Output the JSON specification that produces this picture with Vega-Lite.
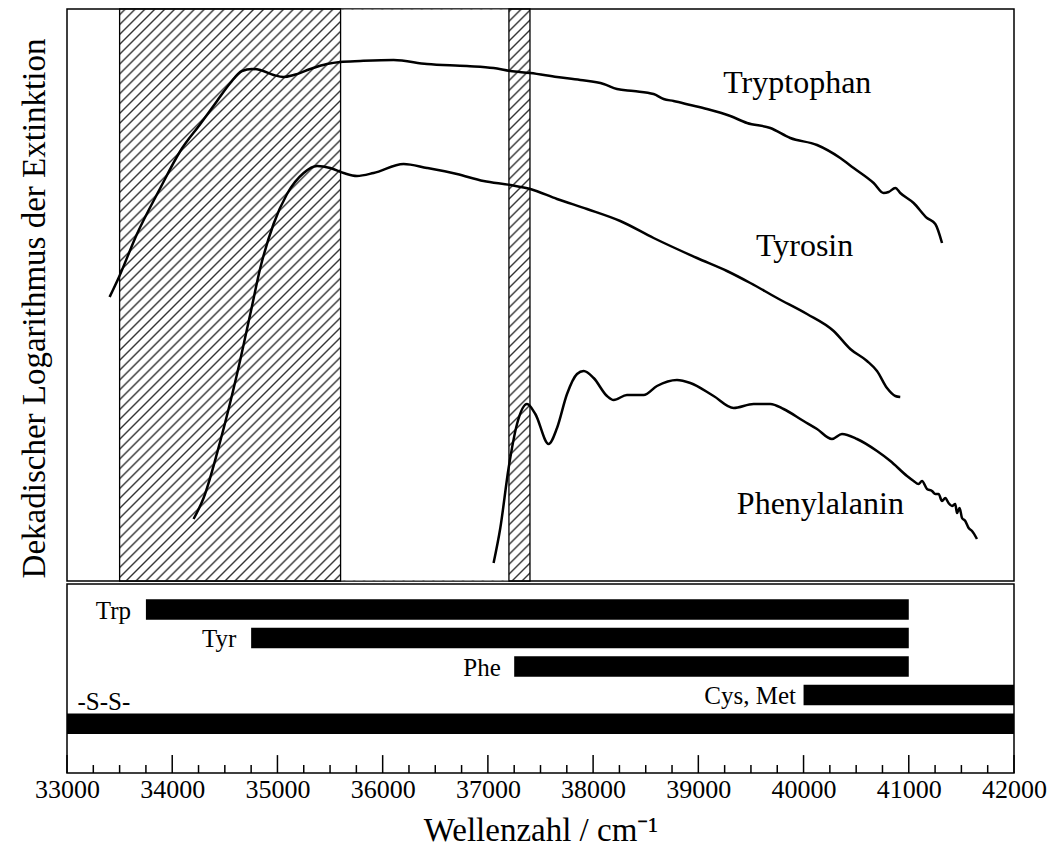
{
"$schema": "https://vega.github.io/schema/vega-lite/v6.json",
"background": "white",
"padding": {"left": 17, "top": 7, "right": 2, "bottom": 0},
"config": {"font": "Liberation Serif", "view": {"stroke": "black", "strokeWidth": 1.5}},
"spacing": 0,
"vconcat": [
{
"width": 947, "height": 572,
"layer": [
{
"data": {"values": [{"x0": 33500, "x1": 37400}]},
"mark": {"type": "rect", "strokeWidth": 0, "fill": {"gradient": "linear", "x1": 0, "y1": 0, "x2": 0.8198, "y2": 1.1426, "stops": [
{"offset":0.003,"color":"#fff"},{"offset":0.005,"color":"#333"},{"offset":0.007,"color":"#fff"},
{"offset":0.013,"color":"#fff"},{"offset":0.015,"color":"#333"},{"offset":0.017,"color":"#fff"},
{"offset":0.023,"color":"#fff"},{"offset":0.025,"color":"#333"},{"offset":0.027,"color":"#fff"},
{"offset":0.033,"color":"#fff"},{"offset":0.035,"color":"#333"},{"offset":0.037,"color":"#fff"},
{"offset":0.043,"color":"#fff"},{"offset":0.045,"color":"#333"},{"offset":0.047,"color":"#fff"},
{"offset":0.053,"color":"#fff"},{"offset":0.055,"color":"#333"},{"offset":0.057,"color":"#fff"},
{"offset":0.063,"color":"#fff"},{"offset":0.065,"color":"#333"},{"offset":0.067,"color":"#fff"},
{"offset":0.073,"color":"#fff"},{"offset":0.075,"color":"#333"},{"offset":0.077,"color":"#fff"},
{"offset":0.083,"color":"#fff"},{"offset":0.085,"color":"#333"},{"offset":0.087,"color":"#fff"},
{"offset":0.093,"color":"#fff"},{"offset":0.095,"color":"#333"},{"offset":0.097,"color":"#fff"},
{"offset":0.103,"color":"#fff"},{"offset":0.105,"color":"#333"},{"offset":0.107,"color":"#fff"},
{"offset":0.113,"color":"#fff"},{"offset":0.115,"color":"#333"},{"offset":0.117,"color":"#fff"},
{"offset":0.123,"color":"#fff"},{"offset":0.125,"color":"#333"},{"offset":0.127,"color":"#fff"},
{"offset":0.133,"color":"#fff"},{"offset":0.135,"color":"#333"},{"offset":0.137,"color":"#fff"},
{"offset":0.143,"color":"#fff"},{"offset":0.145,"color":"#333"},{"offset":0.147,"color":"#fff"},
{"offset":0.153,"color":"#fff"},{"offset":0.155,"color":"#333"},{"offset":0.157,"color":"#fff"},
{"offset":0.163,"color":"#fff"},{"offset":0.165,"color":"#333"},{"offset":0.167,"color":"#fff"},
{"offset":0.173,"color":"#fff"},{"offset":0.175,"color":"#333"},{"offset":0.177,"color":"#fff"},
{"offset":0.183,"color":"#fff"},{"offset":0.185,"color":"#333"},{"offset":0.187,"color":"#fff"},
{"offset":0.193,"color":"#fff"},{"offset":0.195,"color":"#333"},{"offset":0.197,"color":"#fff"},
{"offset":0.203,"color":"#fff"},{"offset":0.205,"color":"#333"},{"offset":0.207,"color":"#fff"},
{"offset":0.213,"color":"#fff"},{"offset":0.215,"color":"#333"},{"offset":0.217,"color":"#fff"},
{"offset":0.223,"color":"#fff"},{"offset":0.225,"color":"#333"},{"offset":0.227,"color":"#fff"},
{"offset":0.233,"color":"#fff"},{"offset":0.235,"color":"#333"},{"offset":0.237,"color":"#fff"},
{"offset":0.243,"color":"#fff"},{"offset":0.245,"color":"#333"},{"offset":0.247,"color":"#fff"},
{"offset":0.253,"color":"#fff"},{"offset":0.255,"color":"#333"},{"offset":0.257,"color":"#fff"},
{"offset":0.263,"color":"#fff"},{"offset":0.265,"color":"#333"},{"offset":0.267,"color":"#fff"},
{"offset":0.273,"color":"#fff"},{"offset":0.275,"color":"#333"},{"offset":0.277,"color":"#fff"},
{"offset":0.283,"color":"#fff"},{"offset":0.285,"color":"#333"},{"offset":0.287,"color":"#fff"},
{"offset":0.293,"color":"#fff"},{"offset":0.295,"color":"#333"},{"offset":0.297,"color":"#fff"},
{"offset":0.303,"color":"#fff"},{"offset":0.305,"color":"#333"},{"offset":0.307,"color":"#fff"},
{"offset":0.313,"color":"#fff"},{"offset":0.315,"color":"#333"},{"offset":0.317,"color":"#fff"},
{"offset":0.323,"color":"#fff"},{"offset":0.325,"color":"#333"},{"offset":0.327,"color":"#fff"},
{"offset":0.333,"color":"#fff"},{"offset":0.335,"color":"#333"},{"offset":0.337,"color":"#fff"},
{"offset":0.343,"color":"#fff"},{"offset":0.345,"color":"#333"},{"offset":0.347,"color":"#fff"},
{"offset":0.353,"color":"#fff"},{"offset":0.355,"color":"#333"},{"offset":0.357,"color":"#fff"},
{"offset":0.363,"color":"#fff"},{"offset":0.365,"color":"#333"},{"offset":0.367,"color":"#fff"},
{"offset":0.373,"color":"#fff"},{"offset":0.375,"color":"#333"},{"offset":0.377,"color":"#fff"},
{"offset":0.383,"color":"#fff"},{"offset":0.385,"color":"#333"},{"offset":0.387,"color":"#fff"},
{"offset":0.393,"color":"#fff"},{"offset":0.395,"color":"#333"},{"offset":0.397,"color":"#fff"},
{"offset":0.403,"color":"#fff"},{"offset":0.405,"color":"#333"},{"offset":0.407,"color":"#fff"},
{"offset":0.413,"color":"#fff"},{"offset":0.415,"color":"#333"},{"offset":0.417,"color":"#fff"},
{"offset":0.423,"color":"#fff"},{"offset":0.425,"color":"#333"},{"offset":0.427,"color":"#fff"},
{"offset":0.433,"color":"#fff"},{"offset":0.435,"color":"#333"},{"offset":0.437,"color":"#fff"},
{"offset":0.443,"color":"#fff"},{"offset":0.445,"color":"#333"},{"offset":0.447,"color":"#fff"},
{"offset":0.453,"color":"#fff"},{"offset":0.455,"color":"#333"},{"offset":0.457,"color":"#fff"},
{"offset":0.463,"color":"#fff"},{"offset":0.465,"color":"#333"},{"offset":0.467,"color":"#fff"},
{"offset":0.473,"color":"#fff"},{"offset":0.475,"color":"#333"},{"offset":0.477,"color":"#fff"},
{"offset":0.483,"color":"#fff"},{"offset":0.485,"color":"#333"},{"offset":0.487,"color":"#fff"},
{"offset":0.493,"color":"#fff"},{"offset":0.495,"color":"#333"},{"offset":0.497,"color":"#fff"},
{"offset":0.503,"color":"#fff"},{"offset":0.505,"color":"#333"},{"offset":0.507,"color":"#fff"},
{"offset":0.513,"color":"#fff"},{"offset":0.515,"color":"#333"},{"offset":0.517,"color":"#fff"},
{"offset":0.523,"color":"#fff"},{"offset":0.525,"color":"#333"},{"offset":0.527,"color":"#fff"},
{"offset":0.533,"color":"#fff"},{"offset":0.535,"color":"#333"},{"offset":0.537,"color":"#fff"},
{"offset":0.543,"color":"#fff"},{"offset":0.545,"color":"#333"},{"offset":0.547,"color":"#fff"},
{"offset":0.553,"color":"#fff"},{"offset":0.555,"color":"#333"},{"offset":0.557,"color":"#fff"},
{"offset":0.563,"color":"#fff"},{"offset":0.565,"color":"#333"},{"offset":0.567,"color":"#fff"},
{"offset":0.573,"color":"#fff"},{"offset":0.575,"color":"#333"},{"offset":0.577,"color":"#fff"},
{"offset":0.583,"color":"#fff"},{"offset":0.585,"color":"#333"},{"offset":0.587,"color":"#fff"},
{"offset":0.593,"color":"#fff"},{"offset":0.595,"color":"#333"},{"offset":0.597,"color":"#fff"},
{"offset":0.603,"color":"#fff"},{"offset":0.605,"color":"#333"},{"offset":0.607,"color":"#fff"},
{"offset":0.613,"color":"#fff"},{"offset":0.615,"color":"#333"},{"offset":0.617,"color":"#fff"},
{"offset":0.623,"color":"#fff"},{"offset":0.625,"color":"#333"},{"offset":0.627,"color":"#fff"},
{"offset":0.633,"color":"#fff"},{"offset":0.635,"color":"#333"},{"offset":0.637,"color":"#fff"},
{"offset":0.643,"color":"#fff"},{"offset":0.645,"color":"#333"},{"offset":0.647,"color":"#fff"},
{"offset":0.653,"color":"#fff"},{"offset":0.655,"color":"#333"},{"offset":0.657,"color":"#fff"},
{"offset":0.663,"color":"#fff"},{"offset":0.665,"color":"#333"},{"offset":0.667,"color":"#fff"},
{"offset":0.673,"color":"#fff"},{"offset":0.675,"color":"#333"},{"offset":0.677,"color":"#fff"},
{"offset":0.683,"color":"#fff"},{"offset":0.685,"color":"#333"},{"offset":0.687,"color":"#fff"},
{"offset":0.693,"color":"#fff"},{"offset":0.695,"color":"#333"},{"offset":0.697,"color":"#fff"},
{"offset":0.703,"color":"#fff"},{"offset":0.705,"color":"#333"},{"offset":0.707,"color":"#fff"},
{"offset":0.713,"color":"#fff"},{"offset":0.715,"color":"#333"},{"offset":0.717,"color":"#fff"},
{"offset":0.723,"color":"#fff"},{"offset":0.725,"color":"#333"},{"offset":0.727,"color":"#fff"},
{"offset":0.733,"color":"#fff"},{"offset":0.735,"color":"#333"},{"offset":0.737,"color":"#fff"},
{"offset":0.743,"color":"#fff"},{"offset":0.745,"color":"#333"},{"offset":0.747,"color":"#fff"},
{"offset":0.753,"color":"#fff"},{"offset":0.755,"color":"#333"},{"offset":0.757,"color":"#fff"},
{"offset":0.763,"color":"#fff"},{"offset":0.765,"color":"#333"},{"offset":0.767,"color":"#fff"},
{"offset":0.773,"color":"#fff"},{"offset":0.775,"color":"#333"},{"offset":0.777,"color":"#fff"},
{"offset":0.783,"color":"#fff"},{"offset":0.785,"color":"#333"},{"offset":0.787,"color":"#fff"},
{"offset":0.793,"color":"#fff"},{"offset":0.795,"color":"#333"},{"offset":0.797,"color":"#fff"},
{"offset":0.803,"color":"#fff"},{"offset":0.805,"color":"#333"},{"offset":0.807,"color":"#fff"},
{"offset":0.813,"color":"#fff"},{"offset":0.815,"color":"#333"},{"offset":0.817,"color":"#fff"},
{"offset":0.823,"color":"#fff"},{"offset":0.825,"color":"#333"},{"offset":0.827,"color":"#fff"},
{"offset":0.833,"color":"#fff"},{"offset":0.835,"color":"#333"},{"offset":0.837,"color":"#fff"},
{"offset":0.843,"color":"#fff"},{"offset":0.845,"color":"#333"},{"offset":0.847,"color":"#fff"},
{"offset":0.853,"color":"#fff"},{"offset":0.855,"color":"#333"},{"offset":0.857,"color":"#fff"},
{"offset":0.863,"color":"#fff"},{"offset":0.865,"color":"#333"},{"offset":0.867,"color":"#fff"},
{"offset":0.873,"color":"#fff"},{"offset":0.875,"color":"#333"},{"offset":0.877,"color":"#fff"},
{"offset":0.883,"color":"#fff"},{"offset":0.885,"color":"#333"},{"offset":0.887,"color":"#fff"},
{"offset":0.893,"color":"#fff"},{"offset":0.895,"color":"#333"},{"offset":0.897,"color":"#fff"},
{"offset":0.903,"color":"#fff"},{"offset":0.905,"color":"#333"},{"offset":0.907,"color":"#fff"},
{"offset":0.913,"color":"#fff"},{"offset":0.915,"color":"#333"},{"offset":0.917,"color":"#fff"},
{"offset":0.923,"color":"#fff"},{"offset":0.925,"color":"#333"},{"offset":0.927,"color":"#fff"},
{"offset":0.933,"color":"#fff"},{"offset":0.935,"color":"#333"},{"offset":0.937,"color":"#fff"},
{"offset":0.943,"color":"#fff"},{"offset":0.945,"color":"#333"},{"offset":0.947,"color":"#fff"},
{"offset":0.953,"color":"#fff"},{"offset":0.955,"color":"#333"},{"offset":0.957,"color":"#fff"},
{"offset":0.963,"color":"#fff"},{"offset":0.965,"color":"#333"},{"offset":0.967,"color":"#fff"},
{"offset":0.973,"color":"#fff"},{"offset":0.975,"color":"#333"},{"offset":0.977,"color":"#fff"},
{"offset":0.983,"color":"#fff"},{"offset":0.985,"color":"#333"},{"offset":0.987,"color":"#fff"},
{"offset":0.993,"color":"#fff"},{"offset":0.995,"color":"#333"},{"offset":0.997,"color":"#fff"}
]}},
"encoding": {
"x": {"field": "x0", "type": "quantitative", "scale": {"domain": [33000, 42000], "nice": false, "zero": false}, "axis": null},
"x2": {"field": "x1"},
"y": {"datum": 0.8, "type": "quantitative", "scale": {"domain": [0, 572], "nice": false, "zero": false},
"axis": {"title": "Dekadischer Logarithmus der Extinktion", "labels": false, "ticks": false, "domain": false, "grid": false, "titleFontSize": 33, "titleFontWeight": "normal", "titleColor": "black", "titlePadding": 16, "titleY": 299}},
"y2": {"datum": 571.2}
}
},
{
"data": {"values": [{"x0": 35600, "x1": 37200}]},
"mark": {"type": "rect", "fill": "white", "strokeWidth": 0},
"encoding": {
"x": {"field": "x0", "type": "quantitative", "axis": null},
"x2": {"field": "x1"},
"y": {"datum": 0.8, "type": "quantitative",
"axis": {"title": "Dekadischer Logarithmus der Extinktion", "labels": false, "ticks": false, "domain": false, "grid": false, "titleFontSize": 33, "titleFontWeight": "normal", "titleColor": "black", "titlePadding": 16, "titleY": 299}},
"y2": {"datum": 571.2}
}
},
{
"data": {"values": [{"x0": 33500, "x1": 35600}, {"x0": 37200, "x1": 37400}]},
"mark": {"type": "rect", "fill": null, "fillOpacity": 0, "stroke": "black", "strokeWidth": 1.3},
"encoding": {
"x": {"field": "x0", "type": "quantitative", "axis": null},
"x2": {"field": "x1"},
"y": {"datum": 0, "type": "quantitative",
"axis": {"title": "Dekadischer Logarithmus der Extinktion", "labels": false, "ticks": false, "domain": false, "grid": false, "titleFontSize": 33, "titleFontWeight": "normal", "titleColor": "black", "titlePadding": 16, "titleY": 299}},
"y2": {"datum": 572}
}
},
{
"data": {"values": [
{"s":"Trp","x":33405,"y":284},{"s":"Trp","x":33490,"y":303},{"s":"Trp","x":33665,"y":347},{"s":"Trp","x":33887,"y":393},{"s":"Trp","x":34077,"y":430},{"s":"Trp","x":34267,"y":457},{"s":"Trp","x":34426,"y":480},{"s":"Trp","x":34552,"y":498},{"s":"Trp","x":34663,"y":510},{"s":"Trp","x":34758,"y":512},{"s":"Trp","x":34837,"y":511},{"s":"Trp","x":34964,"y":506},{"s":"Trp","x":35059,"y":504},{"s":"Trp","x":35154,"y":506},{"s":"Trp","x":35312,"y":512},{"s":"Trp","x":35471,"y":517},{"s":"Trp","x":35597,"y":519},{"s":"Trp","x":35787,"y":520},{"s":"Trp","x":36104,"y":521},{"s":"Trp","x":36421,"y":517},{"s":"Trp","x":36801,"y":515},{"s":"Trp","x":37054,"y":513},{"s":"Trp","x":37213,"y":510},{"s":"Trp","x":37403,"y":508},{"s":"Trp","x":37657,"y":504},{"s":"Trp","x":37878,"y":501},{"s":"Trp","x":38100,"y":497},{"s":"Trp","x":38227,"y":492},{"s":"Trp","x":38385,"y":490},{"s":"Trp","x":38575,"y":487},{"s":"Trp","x":38670,"y":482},{"s":"Trp","x":38765,"y":480},{"s":"Trp","x":38924,"y":476},{"s":"Trp","x":39082,"y":472},{"s":"Trp","x":39304,"y":465},{"s":"Trp","x":39463,"y":458},{"s":"Trp","x":39684,"y":453},{"s":"Trp","x":39874,"y":443},{"s":"Trp","x":40128,"y":436},{"s":"Trp","x":40349,"y":423},{"s":"Trp","x":40476,"y":413},{"s":"Trp","x":40666,"y":398},{"s":"Trp","x":40761,"y":388},{"s":"Trp","x":40808,"y":389},{"s":"Trp","x":40872,"y":393},{"s":"Trp","x":40919,"y":388},{"s":"Trp","x":41046,"y":378},{"s":"Trp","x":41173,"y":363},{"s":"Trp","x":41252,"y":357},{"s":"Trp","x":41316,"y":338},
{"s":"Tyr","x":34203,"y":62},{"s":"Tyr","x":34298,"y":83},{"s":"Tyr","x":34457,"y":140},{"s":"Tyr","x":34616,"y":207},{"s":"Tyr","x":34742,"y":267},{"s":"Tyr","x":34837,"y":313},{"s":"Tyr","x":34963,"y":357},{"s":"Tyr","x":35091,"y":387},{"s":"Tyr","x":35249,"y":408},{"s":"Tyr","x":35376,"y":415},{"s":"Tyr","x":35502,"y":413},{"s":"Tyr","x":35629,"y":408},{"s":"Tyr","x":35756,"y":405},{"s":"Tyr","x":35914,"y":408},{"s":"Tyr","x":36199,"y":417},{"s":"Tyr","x":36421,"y":413},{"s":"Tyr","x":36706,"y":407},{"s":"Tyr","x":36959,"y":400},{"s":"Tyr","x":37213,"y":396},{"s":"Tyr","x":37403,"y":392},{"s":"Tyr","x":37657,"y":382},{"s":"Tyr","x":37942,"y":372},{"s":"Tyr","x":38258,"y":360},{"s":"Tyr","x":38575,"y":343},{"s":"Tyr","x":38987,"y":323},{"s":"Tyr","x":39272,"y":310},{"s":"Tyr","x":39494,"y":298},{"s":"Tyr","x":39748,"y":283},{"s":"Tyr","x":40033,"y":267},{"s":"Tyr","x":40286,"y":250},{"s":"Tyr","x":40444,"y":232},{"s":"Tyr","x":40603,"y":220},{"s":"Tyr","x":40698,"y":210},{"s":"Tyr","x":40793,"y":193},{"s":"Tyr","x":40872,"y":185},{"s":"Tyr","x":40919,"y":184},
{"s":"Phe","x":37054,"y":18},{"s":"Phe","x":37118,"y":53},{"s":"Phe","x":37197,"y":113},{"s":"Phe","x":37277,"y":157},{"s":"Phe","x":37372,"y":177},{"s":"Phe","x":37451,"y":167},{"s":"Phe","x":37577,"y":137},{"s":"Phe","x":37657,"y":153},{"s":"Phe","x":37752,"y":187},{"s":"Phe","x":37847,"y":207},{"s":"Phe","x":37910,"y":210},{"s":"Phe","x":38005,"y":203},{"s":"Phe","x":38132,"y":185},{"s":"Phe","x":38195,"y":181},{"s":"Phe","x":38322,"y":186},{"s":"Phe","x":38480,"y":186},{"s":"Phe","x":38607,"y":195},{"s":"Phe","x":38797,"y":201},{"s":"Phe","x":38924,"y":198},{"s":"Phe","x":39145,"y":185},{"s":"Phe","x":39335,"y":173},{"s":"Phe","x":39525,"y":177},{"s":"Phe","x":39684,"y":177},{"s":"Phe","x":39810,"y":172},{"s":"Phe","x":40000,"y":160},{"s":"Phe","x":40128,"y":152},{"s":"Phe","x":40270,"y":142},{"s":"Phe","x":40365,"y":147},{"s":"Phe","x":40508,"y":142},{"s":"Phe","x":40698,"y":130},{"s":"Phe","x":40825,"y":120},{"s":"Phe","x":40983,"y":105},{"s":"Phe","x":41046,"y":100},{"s":"Phe","x":41093,"y":97},{"s":"Phe","x":41126,"y":100},{"s":"Phe","x":41173,"y":92},{"s":"Phe","x":41221,"y":90},{"s":"Phe","x":41252,"y":87},{"s":"Phe","x":41283,"y":87},{"s":"Phe","x":41316,"y":80},{"s":"Phe","x":41347,"y":83},{"s":"Phe","x":41378,"y":78},{"s":"Phe","x":41411,"y":75},{"s":"Phe","x":41442,"y":77},{"s":"Phe","x":41458,"y":68},{"s":"Phe","x":41483,"y":73},{"s":"Phe","x":41506,"y":63},{"s":"Phe","x":41537,"y":60},{"s":"Phe","x":41569,"y":53},{"s":"Phe","x":41601,"y":50},{"s":"Phe","x":41648,"y":42}
]},
"mark": {"type": "line", "color": "black", "strokeWidth": 2.5, "interpolate": "monotone"},
"encoding": {
"x": {"field": "x", "type": "quantitative", "axis": null},
"y": {"field": "y", "type": "quantitative",
"axis": {"title": "Dekadischer Logarithmus der Extinktion", "labels": false, "ticks": false, "domain": false, "grid": false, "titleFontSize": 33, "titleFontWeight": "normal", "titleColor": "black", "titlePadding": 16, "titleY": 299}},
"detail": {"field": "s", "type": "nominal"}
}
},
{
"data": {"values": [
{"label": "Tryptophan", "x": 39940, "y": 488},
{"label": "Tyrosin", "x": 40010, "y": 325},
{"label": "Phenylalanin", "x": 40160, "y": 67}
]},
"mark": {"type": "text", "fontSize": 32, "align": "center", "baseline": "alphabetic", "color": "black"},
"encoding": {
"x": {"field": "x", "type": "quantitative", "axis": null},
"y": {"field": "y", "type": "quantitative",
"axis": {"title": "Dekadischer Logarithmus der Extinktion", "labels": false, "ticks": false, "domain": false, "grid": false, "titleFontSize": 33, "titleFontWeight": "normal", "titleColor": "black", "titlePadding": 16, "titleY": 299}},
"text": {"field": "label"}
}
}
]
},
{
"width": 947, "height": 189,
"resolve": {"axis": {"x": "independent"}},
"layer": [
{
"data": {"values": [
{"name": "Trp", "start": 33750, "end": 41000, "lo": 154.0, "hi": 174.6},
{"name": "Tyr", "start": 34750, "end": 41000, "lo": 125.4, "hi": 146.0},
{"name": "Phe", "start": 37250, "end": 41000, "lo": 96.8, "hi": 117.4},
{"name": "Cys, Met", "start": 40000, "end": 42000, "lo": 68.2, "hi": 88.8},
{"name": "-S-S-", "start": 33000, "end": 42000, "lo": 39.1, "hi": 59.7}
]},
"mark": {"type": "rect", "color": "black"},
"encoding": {
"x": {"field": "start", "type": "quantitative", "scale": {"domain": [33000, 42000], "nice": false, "zero": false},
"axis": {"orient": "bottom", "values": [33000, 34000, 35000, 36000, 37000, 38000, 39000, 40000, 41000, 42000], "format": "d", "ticks": false, "domain": false, "grid": false, "labelFontSize": 26, "labelColor": "black", "labelFlush": false, "labelOverlap": false, "labelPadding": 3, "title": "Wellenzahl / cm⁻¹", "titleFontSize": 33, "titleFontWeight": "normal", "titleColor": "black", "titlePadding": 12}},
"x2": {"field": "end"},
"y": {"field": "lo", "type": "quantitative", "scale": {"domain": [0, 190], "nice": false, "zero": false}, "axis": null},
"y2": {"field": "hi"}
}
},
{
"data": {"values": [
{"name": "Trp", "lo": 154.0, "lx": 33608},
{"name": "Tyr", "lo": 125.4, "lx": 34609},
{"name": "Phe", "lo": 96.8, "lx": 37122},
{"name": "Cys, Met", "lo": 68.2, "lx": 39928}
]},
"mark": {"type": "text", "fontSize": 25, "align": "right", "baseline": "alphabetic", "dy": -1, "color": "black"},
"encoding": {
"x": {"field": "lx", "type": "quantitative", "axis": null},
"y": {"field": "lo", "type": "quantitative", "axis": null},
"text": {"field": "name"}
}
},
{
"data": {"values": [{"name": "-S-S-", "x": 33100, "y": 63}]},
"mark": {"type": "text", "fontSize": 25, "align": "left", "baseline": "alphabetic", "color": "black"},
"encoding": {
"x": {"field": "x", "type": "quantitative", "axis": null},
"y": {"field": "y", "type": "quantitative", "axis": null},
"text": {"field": "name"}
}
},
{
"data": {"values": [{"v": 33000}, {"v": 34000}, {"v": 35000}, {"v": 36000}, {"v": 37000}, {"v": 38000}, {"v": 39000}, {"v": 40000}, {"v": 41000}, {"v": 42000}]},
"mark": {"type": "rule", "color": "black", "strokeWidth": 1.5},
"encoding": {
"x": {"field": "v", "type": "quantitative", "axis": null},
"y": {"datum": 0, "type": "quantitative", "axis": null},
"y2": {"datum": 18}
}
},
{
"data": {"values": [{"v": 33250}, {"v": 33500}, {"v": 33750}, {"v": 34250}, {"v": 34500}, {"v": 34750}, {"v": 35250}, {"v": 35500}, {"v": 35750}, {"v": 36250}, {"v": 36500}, {"v": 36750}, {"v": 37250}, {"v": 37500}, {"v": 37750}, {"v": 38250}, {"v": 38500}, {"v": 38750}, {"v": 39250}, {"v": 39500}, {"v": 39750}, {"v": 40250}, {"v": 40500}, {"v": 40750}, {"v": 41250}, {"v": 41500}, {"v": 41750}]},
"mark": {"type": "rule", "color": "black", "strokeWidth": 1.5},
"encoding": {
"x": {"field": "v", "type": "quantitative", "axis": null},
"y": {"datum": 0, "type": "quantitative", "axis": null},
"y2": {"datum": 8}
}
}
]
}
]
}
